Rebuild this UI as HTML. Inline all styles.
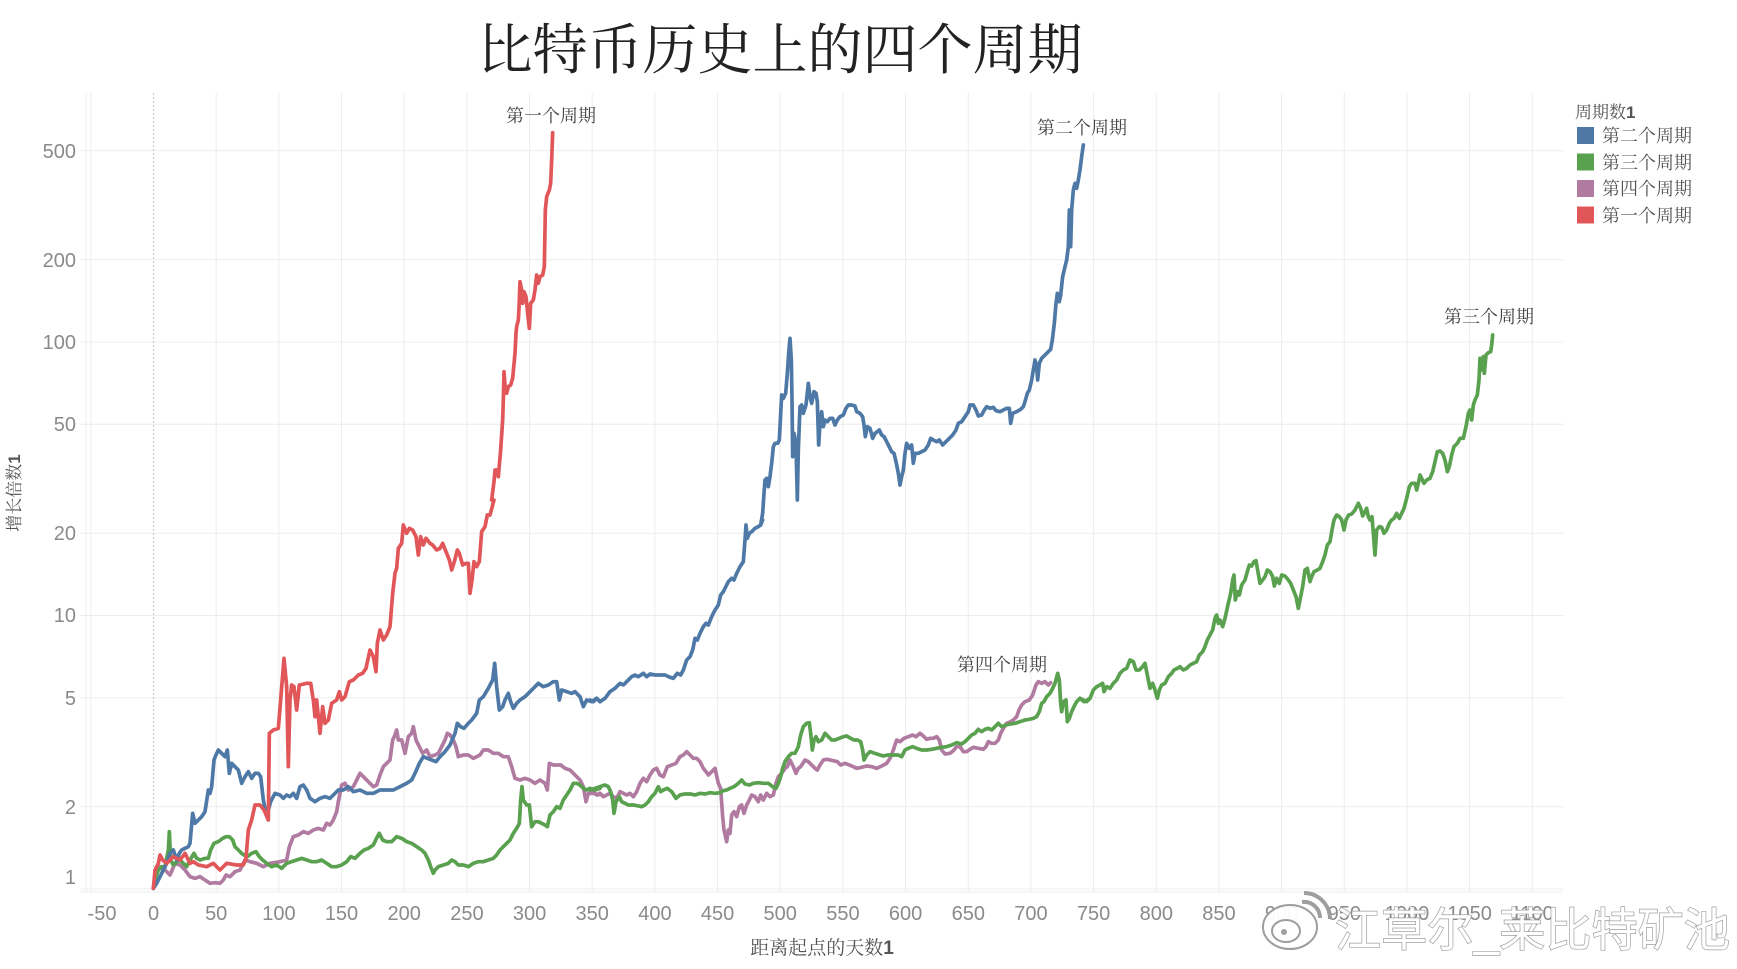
<!DOCTYPE html>
<html><head><meta charset="utf-8"><style>
html,body{margin:0;padding:0;background:#fff;}
svg{display:block;}
.tk{font-family:"Liberation Sans",sans-serif;font-size:20px;fill:#8a8a8a;}
.sf{font-family:"Liberation Serif","Noto Serif CJK SC",serif;}
.ln{fill:none;stroke-width:3.7;stroke-linejoin:round;stroke-linecap:round;}
</style></head><body>
<svg width="1737" height="969" viewBox="0 0 1737 969" xmlns="http://www.w3.org/2000/svg">
<rect width="1737" height="969" fill="#fff"/>
<text x="780" y="69" text-anchor="middle" class="sf" font-size="55" fill="#222">比特币历史上的四个周期</text>
<g stroke="#ececec" stroke-width="1">
<line x1="86" y1="93" x2="86" y2="892"/>
<line x1="90.8" y1="93" x2="90.8" y2="892"/><line x1="216.2" y1="93" x2="216.2" y2="892"/><line x1="278.9" y1="93" x2="278.9" y2="892"/><line x1="341.5" y1="93" x2="341.5" y2="892"/><line x1="404.2" y1="93" x2="404.2" y2="892"/><line x1="466.9" y1="93" x2="466.9" y2="892"/><line x1="529.6" y1="93" x2="529.6" y2="892"/><line x1="592.2" y1="93" x2="592.2" y2="892"/><line x1="654.9" y1="93" x2="654.9" y2="892"/><line x1="717.6" y1="93" x2="717.6" y2="892"/><line x1="780.2" y1="93" x2="780.2" y2="892"/><line x1="842.9" y1="93" x2="842.9" y2="892"/><line x1="905.6" y1="93" x2="905.6" y2="892"/><line x1="968.3" y1="93" x2="968.3" y2="892"/><line x1="1030.9" y1="93" x2="1030.9" y2="892"/><line x1="1093.6" y1="93" x2="1093.6" y2="892"/><line x1="1156.3" y1="93" x2="1156.3" y2="892"/><line x1="1218.9" y1="93" x2="1218.9" y2="892"/><line x1="1281.6" y1="93" x2="1281.6" y2="892"/><line x1="1344.3" y1="93" x2="1344.3" y2="892"/><line x1="1407" y1="93" x2="1407" y2="892"/><line x1="1469.6" y1="93" x2="1469.6" y2="892"/><line x1="1532.3" y1="93" x2="1532.3" y2="892"/>
<line x1="80" y1="150.8" x2="1563" y2="150.8"/><line x1="80" y1="259.7" x2="1563" y2="259.7"/><line x1="80" y1="342" x2="1563" y2="342"/><line x1="80" y1="424.3" x2="1563" y2="424.3"/><line x1="80" y1="533.2" x2="1563" y2="533.2"/><line x1="80" y1="615.5" x2="1563" y2="615.5"/><line x1="80" y1="697.8" x2="1563" y2="697.8"/><line x1="80" y1="806.7" x2="1563" y2="806.7"/><line x1="80" y1="889" x2="1563" y2="889"/><line x1="80" y1="892" x2="1563" y2="892"/>
</g>
<line x1="153.5" y1="93" x2="153.5" y2="892" stroke="#c8c8c8" stroke-width="1" stroke-dasharray="2,2"/>
<g class="tk" text-anchor="end">
<text x="76" y="158">500</text><text x="76" y="267">200</text><text x="76" y="349">100</text><text x="76" y="431">50</text><text x="76" y="540">20</text><text x="76" y="622">10</text><text x="76" y="705">5</text><text x="76" y="814">2</text><text x="76" y="884">1</text>
</g>
<g class="tk" text-anchor="middle">
<text x="102" y="920">-50</text><text x="153.5" y="920">0</text><text x="216.2" y="920">50</text><text x="278.9" y="920">100</text><text x="341.5" y="920">150</text><text x="404.2" y="920">200</text><text x="466.9" y="920">250</text><text x="529.6" y="920">300</text><text x="592.2" y="920">350</text><text x="654.9" y="920">400</text><text x="717.6" y="920">450</text><text x="780.2" y="920">500</text><text x="842.9" y="920">550</text><text x="905.6" y="920">600</text><text x="968.3" y="920">650</text><text x="1030.9" y="920">700</text><text x="1093.6" y="920">750</text><text x="1156.3" y="920">800</text><text x="1218.9" y="920">850</text><text x="1281.6" y="920">900</text><text x="1344.3" y="920">950</text><text x="1407" y="920">1000</text><text x="1469.6" y="920">1050</text><text x="1532.3" y="920">1100</text>
</g>
<text x="822" y="954" text-anchor="middle" class="sf" font-size="19" fill="#555">距离起点的天数<tspan font-family="Liberation Sans,sans-serif" font-weight="bold">1</tspan></text>
<text transform="translate(20,493) rotate(-90)" text-anchor="middle" class="sf" font-size="17" fill="#555">增长倍数<tspan font-family="Liberation Sans,sans-serif" font-weight="bold">1</tspan></text>

<!-- purple -->
<g transform="translate(140,500) scale(0.33333)"><polyline class="ln" vector-effect="non-scaling-stroke" stroke="#b07aa1" points="40,1165 50,1120 60,1100 75,1110 90,1125 105,1090 120,1095 135,1110 150,1130 165,1135 180,1130 195,1140 210,1150 225,1148 240,1150 250,1140 258,1125 270,1130 285,1115 300,1110 315,1080 330,1085 350,1090 370,1100 390,1090 420,1085 440,1080 448,1040 460,1010 475,1005 490,995 505,1000 520,990 535,985 550,990 560,970 570,975 580,960 590,935 595,905 600,880 605,855 615,850 625,870 640,860 650,840 660,820 670,830 685,845 700,860 710,855 720,825 730,800 740,790 750,780 758,720 765,705 770,690 775,720 785,720 795,760 805,710 815,700 820,680 828,720 838,740 848,760 860,750 870,770 885,765 895,760 905,740 915,720 922,700 930,705 940,720 948,740 955,770 970,765 985,765 1000,775 1010,770 1020,765 1030,750 1045,750 1060,760 1075,760 1090,770 1105,770 1115,800 1125,835 1140,840 1155,835 1170,840 1185,850 1200,840 1215,850 1222,870 1228,790 1240,795 1250,795 1262,795 1275,805 1290,810 1305,825 1320,840 1330,860 1338,905 1345,880 1360,880 1375,885 1380,880"/></g>
<g transform="translate(590,520) scale(0.33333)"><polyline class="ln" vector-effect="non-scaling-stroke" stroke="#b07aa1" points="0,820 10,815 20,825 30,820 40,830 50,825 60,820 70,830 80,835 90,815 100,820 110,825 120,820 130,830 140,815 150,790 160,775 170,785 180,765 190,750 200,745 210,765 220,770 232,740 245,735 258,730 270,710 280,705 290,695 300,705 310,715 320,715 330,725 340,745 348,755 355,765 365,755 375,745 385,790 392,805 398,890 402,930 410,965 415,930 420,940 425,885 432,875 440,890 448,860 455,855 462,880 470,855 478,840 485,825 495,830 505,845 512,825 520,840 530,820 540,830 550,825 558,790 565,770 575,760 585,745 592,740 600,720 610,740 618,760 625,745 632,740 645,720 655,725 665,735 675,745 682,750 690,735 700,720 710,718 720,720 730,722 742,725 752,735 765,730 778,735 790,740 800,745 815,742 830,738 845,740 860,745 875,738 890,730 900,715 910,690 920,660 930,665 942,655 955,650 968,645 978,650 990,640 1000,648 1010,658 1020,655 1030,655 1040,650 1048,660 1055,690 1065,702 1080,700 1090,692 1100,680 1110,680 1120,695 1130,695 1140,688 1150,682 1165,685 1180,688 1188,680 1195,665 1205,670 1215,670 1225,660 1232,640 1240,625 1250,610 1262,605 1270,600 1280,590 1287,570 1295,555 1305,545 1318,540 1328,525 1338,495 1345,485 1355,490 1365,485 1375,495 1382,488"/></g>

<!-- green -->
<g transform="translate(140,500) scale(0.33333)"><polyline class="ln" vector-effect="non-scaling-stroke" stroke="#59a14f" points="40,1165 48,1130 55,1110 65,1100 75,1100 85,1050 88,995 92,1080 100,1095 110,1085 120,1080 130,1090 140,1100 150,1080 162,1060 170,1075 180,1080 195,1075 205,1075 212,1050 222,1030 235,1025 248,1015 258,1010 268,1010 278,1020 285,1040 295,1050 305,1060 312,1065 322,1070 335,1060 348,1055 358,1070 368,1080 380,1090 395,1100 410,1095 425,1105 440,1090 455,1085 470,1080 485,1075 500,1080 515,1085 530,1085 545,1080 560,1090 575,1100 590,1100 605,1095 620,1085 632,1070 645,1075 660,1060 672,1050 685,1045 700,1035 712,1010 718,1000 728,1020 740,1025 755,1025 770,1010 785,1015 800,1025 815,1030 830,1040 845,1050 855,1060 865,1080 872,1100 880,1120 885,1110 895,1100 910,1095 925,1090 935,1080 945,1085 955,1095 970,1095 985,1100 1000,1090 1015,1085 1030,1085 1045,1080 1060,1075 1070,1065 1080,1050 1090,1040 1100,1030 1110,1020 1120,1000 1130,985 1138,970 1142,900 1146,860 1150,900 1160,915 1168,915 1175,980 1185,965 1195,965 1205,970 1215,975 1222,980 1230,945 1240,935 1250,920 1260,925 1270,900 1280,885 1290,870 1300,850 1310,850 1320,855 1330,865 1340,870 1350,865 1365,870 1380,865"/></g>
<g transform="translate(590,520) scale(0.33333)"><polyline class="ln" vector-effect="non-scaling-stroke" stroke="#59a14f" points="0,810 15,805 30,800 45,795 55,800 62,815 68,840 72,880 78,845 88,830 95,845 105,850 115,855 130,855 145,858 155,860 165,855 175,845 185,830 195,820 205,800 212,815 220,810 232,805 245,815 258,835 270,825 285,822 300,822 315,825 330,820 345,822 360,818 375,820 390,818 400,812 410,810 420,805 432,800 445,790 455,780 465,792 478,795 490,790 505,788 520,790 535,790 548,800 558,805 565,790 572,770 578,745 585,725 595,710 605,700 615,700 625,680 632,645 640,620 650,610 658,608 662,640 667,690 672,660 678,650 685,665 695,660 705,640 715,650 725,660 735,660 748,655 760,650 770,648 782,655 792,660 802,660 812,665 818,690 822,720 830,705 840,695 855,700 870,705 880,708 895,705 910,705 925,705 935,710 945,690 955,685 968,680 980,685 995,690 1010,690 1025,688 1040,685 1055,682 1070,680 1085,675 1100,668 1115,672 1125,665 1135,655 1145,645 1155,640 1165,628 1175,635 1185,628 1195,625 1205,630 1215,620 1225,610 1235,620 1248,615 1260,612 1275,610 1290,605 1305,600 1318,598 1330,595 1340,590 1348,575 1355,550 1362,545 1370,530 1380,520 1388,505 1395,490 1403,460 1408,480 1412,550 1415,575 1420,545 1428,540 1432,605 1438,595 1445,575 1452,560 1460,545 1470,535 1482,545 1492,540 1500,535"/></g>
<g transform="translate(1080,290) scale(0.33333)"><polyline class="ln" vector-effect="non-scaling-stroke" stroke="#59a14f" points="0,1225 10,1230 20,1235 30,1225 40,1200 50,1190 60,1185 68,1180 72,1205 80,1190 90,1195 100,1180 110,1170 120,1150 130,1140 140,1135 150,1110 160,1115 168,1140 178,1140 188,1130 195,1120 200,1145 205,1170 210,1195 218,1180 225,1200 232,1225 238,1200 245,1185 255,1180 265,1160 275,1150 282,1140 292,1135 300,1130 310,1140 320,1135 330,1125 340,1120 350,1115 358,1095 368,1085 375,1070 382,1050 390,1035 398,1020 405,985 410,975 415,1000 420,990 428,1010 435,985 445,940 452,910 458,870 462,855 466,930 472,905 478,915 485,885 495,870 502,845 508,825 515,828 522,815 528,812 532,835 540,880 548,870 555,860 562,840 570,845 578,860 583,888 590,865 598,880 605,855 615,858 625,870 632,880 640,900 648,920 655,955 662,920 668,890 675,840 682,835 690,875 695,860 702,845 712,840 720,835 728,815 735,795 742,765 750,755 756,720 762,690 770,675 778,680 785,690 792,720 798,690 806,675 815,672 825,660 835,640 842,655 848,678 855,665 860,655 865,680 870,690 876,680 880,730 885,795 890,720 898,710 905,712 912,730 920,720 928,700 935,690 942,685 950,670 958,685 965,670 972,655 980,625 988,590 995,580 1005,580 1010,600 1015,580 1020,555 1025,565 1032,580 1040,570 1050,565 1058,545 1065,515 1072,485 1080,483 1088,490 1095,510 1102,545 1108,530 1115,495 1122,470 1132,460 1140,445 1150,445 1158,410 1165,370 1170,360 1175,390 1180,345 1185,330 1192,315 1197,270 1200,205 1205,240 1210,200 1213,250 1218,195 1225,188 1232,185 1235,165 1238,135"/></g>

<!-- blue -->
<g transform="translate(140,500) scale(0.33333)"><polyline class="ln" vector-effect="non-scaling-stroke" stroke="#4e79a7" points="40,1165 50,1150 60,1130 70,1110 80,1090 90,1060 100,1050 110,1080 118,1060 125,1050 135,1045 145,1040 150,1030 158,940 165,970 175,960 185,950 195,935 205,870 210,880 215,860 222,780 228,765 235,750 245,760 255,770 262,750 268,820 275,790 285,800 295,810 305,850 315,830 325,815 335,835 345,820 355,820 362,830 370,900 378,940 385,930 392,905 405,880 420,885 430,895 440,885 450,890 460,880 470,895 480,860 490,855 500,870 510,895 525,905 540,895 555,890 570,895 580,885 595,870 610,870 625,860 640,875 660,870 680,880 700,880 720,870 740,870 760,870 780,860 800,850 815,840 825,820 838,790 850,770 862,775 875,780 888,785 900,770 915,755 930,735 945,700 952,670 962,680 972,685 985,670 995,660 1010,640 1018,600 1030,590 1045,565 1058,540 1064,490 1070,560 1078,630 1088,620 1095,600 1105,580 1112,605 1120,625 1130,610 1140,600 1155,590 1170,575 1185,560 1195,550 1210,560 1225,555 1240,545 1250,545 1258,600 1265,570 1280,575 1295,580 1305,575 1320,590 1330,620 1340,600 1355,605 1370,595 1380,605"/></g>
<g transform="translate(590,520) scale(0.33333)"><polyline class="ln" vector-effect="non-scaling-stroke" stroke="#4e79a7" points="0,540 10,545 20,535 30,545 45,535 60,515 75,505 90,490 100,495 110,485 125,470 135,465 145,470 160,460 170,470 180,462 195,465 210,465 225,465 240,472 250,475 262,460 272,465 280,450 290,420 300,410 308,390 315,355 322,360 330,340 340,320 348,310 355,315 365,290 375,270 385,255 392,225 400,215 405,205 415,185 425,175 432,180 440,160 450,140 460,125 465,60 468,15 472,55 478,40 485,35 495,25 505,20 512,15 518,0"/></g>
<g transform="translate(590,100) scale(0.33333)"><polyline class="ln" vector-effect="non-scaling-stroke" stroke="#4e79a7" points="512,1275 518,1240 522,1180 525,1140 530,1135 535,1160 540,1130 545,1090 550,1040 555,1030 563,1030 568,1020 570,980 575,885 580,895 587,880 592,820 596,760 600,715 604,780 606,900 608,1070 612,1000 618,1030 622,1200 625,1050 630,920 635,915 640,940 648,915 655,850 660,890 665,910 672,875 678,880 682,905 686,1035 690,970 695,935 700,980 705,960 712,965 720,955 728,955 735,975 742,960 750,950 760,945 768,925 775,915 785,915 795,918 800,935 810,940 818,950 822,975 826,1010 832,980 840,985 848,1015 855,1000 862,995 868,990 875,1005 882,1010 890,1025 900,1045 905,1055 912,1060 918,1085 925,1120 930,1155 935,1130 940,1110 945,1060 950,1030 958,1045 965,1035 970,1090 975,1060 985,1060 995,1055 1005,1050 1015,1035 1022,1015 1030,1020 1040,1025 1048,1020 1058,1035 1068,1025 1078,1015 1088,1005 1098,990 1105,970 1115,965 1125,950 1135,935 1140,915 1150,915 1158,930 1165,948 1175,945 1183,930 1190,920 1200,925 1210,922 1218,932 1230,935 1240,930 1250,925 1258,925 1262,970 1268,940 1280,935 1292,928 1300,920 1305,905 1312,880 1318,870 1325,840 1330,810 1335,780 1340,800 1343,840 1348,790 1355,775 1365,765 1375,755 1382,748 1387,720 1393,670 1398,610 1402,580 1408,605 1412,585 1418,530 1425,500 1430,480 1435,440 1438,330 1442,440 1445,330 1450,270 1455,250 1460,265 1465,240 1470,210 1475,170 1480,135"/></g>

<!-- red -->
<g transform="translate(140,500) scale(0.33333)"><polyline class="ln" vector-effect="non-scaling-stroke" stroke="#e15759" points="40,1165 45,1110 55,1090 60,1065 68,1080 80,1090 100,1070 120,1080 135,1060 150,1090 160,1085 175,1095 200,1100 220,1090 240,1110 260,1090 290,1095 310,1095 318,1075 325,990 335,960 345,915 360,915 372,930 385,960 388,700 400,690 415,685 422,600 432,475 440,560 445,800 450,600 455,555 462,560 470,630 478,555 500,550 512,550 520,600 525,650 530,600 540,700 548,620 555,670 565,660 575,610 590,600 598,575 605,600 615,590 628,545 640,540 655,525 668,520 678,505 690,450 700,470 708,515 712,430 720,390 730,420 740,405 750,380 758,280 765,220 770,205 775,145 785,130 790,75 800,100 808,85 818,90 828,110 835,165 842,110 850,135 858,115 870,130 878,135 890,150 900,145 908,130 918,155 928,180 935,210 943,185 952,150 958,160 968,195 978,190 985,190 990,280 996,240 1002,185 1010,200 1018,185 1025,95 1035,80 1042,45 1050,45 1058,15 1062,0"/></g>
<g transform="translate(140,100) scale(0.33333)"><polyline class="ln" vector-effect="non-scaling-stroke" stroke="#e15759" points="1055,1200 1062,1145 1065,1110 1072,1110 1075,1130 1078,1095 1082,1050 1088,960 1090,900 1092,815 1096,870 1100,880 1105,860 1112,855 1118,835 1125,760 1128,700 1130,680 1135,660 1137,625 1140,545 1145,570 1148,610 1152,575 1158,590 1163,640 1168,685 1172,610 1180,600 1185,570 1190,525 1195,550 1200,530 1208,525 1213,500 1216,330 1220,290 1228,270 1232,250 1235,180 1238,98"/></g>

<!-- annotations -->
<g class="sf" font-size="18" fill="#444">
<text x="506" y="122">第一个周期</text>
<text x="1037" y="134">第二个周期</text>
<text x="1444" y="323">第三个周期</text>
<text x="957" y="671">第四个周期</text>
</g>
<!-- legend -->
<text x="1575" y="118" class="sf" font-size="17" fill="#555">周期数<tspan font-family="Liberation Sans,sans-serif" font-weight="bold">1</tspan></text>
<rect x="1577" y="127" width="17" height="17" fill="#4e79a7"/>
<rect x="1577" y="153.5" width="17" height="17" fill="#59a14f"/>
<rect x="1577" y="180" width="17" height="17" fill="#b07aa1"/>
<rect x="1577" y="206.5" width="17" height="17" fill="#e15759"/>
<g class="sf" font-size="18" fill="#555">
<text x="1602" y="142">第二个周期</text>
<text x="1602" y="169">第三个周期</text>
<text x="1602" y="195">第四个周期</text>
<text x="1602" y="222">第一个周期</text>
</g>
<!-- watermark -->
<g opacity="0.95">
<ellipse cx="1290" cy="927" rx="27" ry="22" fill="#fff" stroke="#999" stroke-width="2"/>
<ellipse cx="1286" cy="931" rx="14" ry="11" fill="#fff" stroke="#999" stroke-width="2"/>
<circle cx="1284" cy="932" r="3" fill="#999"/>
<path d="M1302,902 a16,16 0 0 1 18,16" fill="none" stroke="#999" stroke-width="4"/>
<path d="M1304,893 a26,26 0 0 1 26,26" fill="none" stroke="#999" stroke-width="4"/>
<text x="1335" y="946" font-family="Liberation Sans,'Noto Sans CJK SC',sans-serif" font-size="46" textLength="395" lengthAdjust="spacingAndGlyphs" fill="#fff" stroke="#9a9a9a" stroke-width="1.4" paint-order="stroke">江草尔_莱比特矿池</text>
</g>
</svg>
</body></html>
